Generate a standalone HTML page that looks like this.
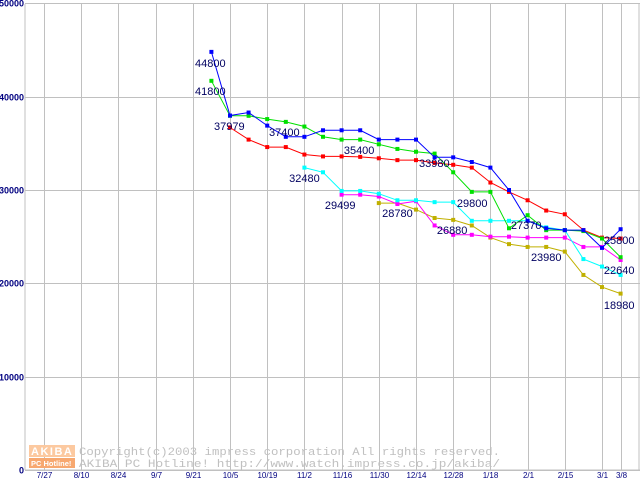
<!DOCTYPE html>
<html><head><meta charset="utf-8"><style>
body{margin:0;background:#fff;}
svg{display:block;font-family:"Liberation Sans",sans-serif;}
</style></head><body>
<svg id="chart" width="640" height="480" xmlns="http://www.w3.org/2000/svg">
<rect width="640" height="480" fill="#fff"/>
<g id="grid"></g>
<g id="wm">
<rect x="29" y="445" width="46" height="12" fill="#fcc9a0"/>
<text x="31" y="455" font-size="11" fill="#fff" font-weight="bold" letter-spacing="1.5">AKIBA</text>
<rect x="29" y="458" width="46" height="10" fill="#f7a870"/>
<text x="31" y="466" font-size="7.5" fill="#fff" font-weight="bold">PC Hotline!</text>
<text x="79" y="455" font-size="11" fill="#c0c0c0" font-family="Liberation Mono,monospace" textLength="421" lengthAdjust="spacingAndGlyphs">Copyright(c)2003 impress corporation All rights reserved.</text>
<text x="79" y="467" font-size="11" fill="#c0c0c0" font-family="Liberation Mono,monospace" textLength="421" lengthAdjust="spacingAndGlyphs">AKIBA PC Hotline!  http://www.watch.impress.co.jp/akiba/</text>
</g>
<g id="series"></g>
<g id="labels"></g>
</svg>
<script>
const xTicks=["7/27","8/10","8/24","9/7","9/21","10/5","10/19","11/2","11/16","11/30","12/14","12/28","1/18","2/1","2/15","3/1","3/8"];
const xTickPos=[0,1,2,3,4,5,6,7,8,9,10,11,12,13,14,15,15.5];
const yTicks=[0,10000,20000,30000,40000,50000];
const blueStart=4.5;
const blueVals=[44800,37979,38300,36900,35700,35700,36400,36400,36400,35400,35400,35400,33500,33500,33000,32400,30000,26700,25900,25700,25700,23800,25800];
const greenStart=4.5;
const greenVals=[41700,37950,37950,37600,37300,36800,35700,35400,35400,34900,34400,34100,33900,31900,29800,29800,25900,27300,25700,25700,25600,24800,22800];
const redStart=5;
const redVals=[36700,35400,34600,34600,33800,33600,33600,33550,33400,33200,33200,32900,32700,32400,30800,29800,28900,27800,27400,25700,24900,24800];
const cyanStart=7;
const cyanVals=[32400,31900,29900,29900,29600,28900,28900,28700,28700,26700,26700,26700,26700,26000,25700,22600,21800,20900];
const magentaStart=8;
const magentaVals=[29500,29500,29300,28500,28800,26200,25200,25200,25000,25000,24900,24900,24900,23900,23900,22500];
const oliveStart=9;
const oliveVals=[28600,28600,27900,27000,26800,26200,24900,24200,23900,23900,23400,20900,19600,18900];
const labelTexts=["44800","41800","37979","37400","35400","33980","32480","29499","28780","29800","27370","26880","25800","23980","22640","18980"];
const labelX=[4.06,4.06,4.57,6.05,8.06,10.08,6.59,7.55,9.09,11.1,12.55,10.56,15.05,13.09,15.05,15.05];
const labelY=[43180,40180,36430,35790,33860,32460,30850,27960,27100,28180,25820,25290,24210,22390,21000,17250];

const NS="http://www.w3.org/2000/svg";
const X=u=>44+u*37.2;
const Y=v=>470-v*0.009333;
function mk(tag,attrs,parent){const e=document.createElementNS(NS,tag);for(const k in attrs)e.setAttribute(k,attrs[k]);parent.appendChild(e);return e;}
const grid=document.getElementById('grid');
mk('line',{x1:25,y1:4,x2:25,y2:470,stroke:'#c0c0c0'},grid);
mk('line',{x1:25,y1:470,x2:640,y2:470,stroke:'#c0c0c0'},grid);
mk('line',{x1:639,y1:4,x2:639,y2:470,stroke:'#c0c0c0'},grid);
xTicks.forEach((t,i)=>{
  const x=Math.round(X(xTickPos[i]))+0.5;
  const l=mk('line',{x1:x,y1:4,x2:x,y2:470,stroke:'#c0c0c0'},grid);
  
  
  const tx=mk('text',{x:x,y:478,'font-size':8,fill:'#000080','text-anchor':'middle'},grid);
  tx.textContent=t;
  
  
});
yTicks.forEach(v=>{
  const y=Math.round(Y(v))+0.5;
  const l=mk('line',{x1:25,y1:y,x2:640,y2:y,stroke:'#c0c0c0'},grid);
  
  
  const tx=mk('text',{x:24,y:y+3,'font-size':9,'font-weight':'bold',fill:'#000080','text-anchor':'end'},grid);
  tx.textContent=String(v);
  
  
});
const series=[["series-red","#ff0000",redStart,redVals],["series-olive","#c0b000",oliveStart,oliveVals],["series-magenta","#ff00ff",magentaStart,magentaVals],["series-cyan","#00ffff",cyanStart,cyanVals],["series-green","#00e000",greenStart,greenVals],["series-blue","#0000ff",blueStart,blueVals]];
const sg=document.getElementById('series');
series.forEach(([name,col,start,vals])=>{
  const g=mk('g',{},sg);
  
  
  const pts=vals.map((v,i)=>X(start+i*0.5).toFixed(1)+','+Y(v).toFixed(1)).join(' ');
  mk('polyline',{points:pts,fill:'none',stroke:col,'stroke-width':1},g);
  vals.forEach((v,i)=>{
    const r=mk('rect',{x:X(start+i*0.5)-2,y:Y(v)-2,width:4,height:4,fill:col},g);
    
    
  });
});
const lg=document.getElementById('labels');
labelTexts.forEach((t,i)=>{
  const tx=mk('text',{x:X(labelX[i]),y:Y(labelY[i]),'font-size':11,fill:'#000060'},lg);
  tx.textContent=t;
  
  
});
</script>
</body></html>
